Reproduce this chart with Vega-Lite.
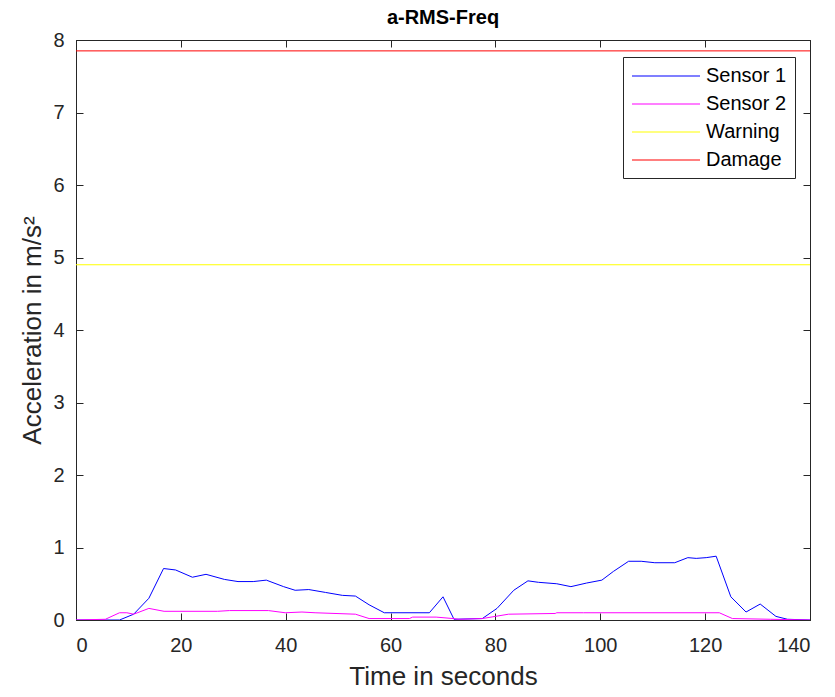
{
  "$schema": "https://vega.github.io/schema/vega-lite/v6.json",
  "width": 734,
  "height": 580,
  "autosize": "none",
  "padding": {"left": 76, "top": 40, "right": 25, "bottom": 77},
  "background": "white",
  "config": {
    "font": "Liberation Sans",
    "view": {"stroke": "#262626", "strokeWidth": 1},
    "axis": {"grid": false, "domainColor": "#262626", "tickColor": "#262626", "labelColor": "#262626", "titleColor": "#262626", "labelFont": "Liberation Sans", "titleFont": "Liberation Sans", "labelFontSize": 20, "titleFontSize": 26, "titleFontWeight": "normal", "tickSize": -7, "domainWidth": 1, "tickWidth": 1}
  },
  "title": {"text": "a-RMS-Freq", "fontSize": 20, "fontWeight": "bold", "font": "Liberation Sans", "color": "#000000", "offset": 2},
  "data": {"values": [
    {"series": "Sensor 1", "t": 0, "v": 0},
    {"series": "Sensor 1", "t": 8.3, "v": 0},
    {"series": "Sensor 1", "t": 11, "v": 0.08},
    {"series": "Sensor 1", "t": 13.9, "v": 0.3},
    {"series": "Sensor 1", "t": 16.7, "v": 0.71},
    {"series": "Sensor 1", "t": 19, "v": 0.69},
    {"series": "Sensor 1", "t": 22.2, "v": 0.59},
    {"series": "Sensor 1", "t": 24.8, "v": 0.63},
    {"series": "Sensor 1", "t": 28.3, "v": 0.56},
    {"series": "Sensor 1", "t": 30.9, "v": 0.53},
    {"series": "Sensor 1", "t": 33.8, "v": 0.53},
    {"series": "Sensor 1", "t": 36.3, "v": 0.55},
    {"series": "Sensor 1", "t": 39.6, "v": 0.46},
    {"series": "Sensor 1", "t": 41.8, "v": 0.41},
    {"series": "Sensor 1", "t": 44.4, "v": 0.42},
    {"series": "Sensor 1", "t": 47.6, "v": 0.38},
    {"series": "Sensor 1", "t": 50.8, "v": 0.34},
    {"series": "Sensor 1", "t": 53.3, "v": 0.33},
    {"series": "Sensor 1", "t": 55.9, "v": 0.21},
    {"series": "Sensor 1", "t": 58.8, "v": 0.1},
    {"series": "Sensor 1", "t": 67.4, "v": 0.1},
    {"series": "Sensor 1", "t": 70.0, "v": 0.32},
    {"series": "Sensor 1", "t": 72.1, "v": 0.01},
    {"series": "Sensor 1", "t": 77.5, "v": 0.02},
    {"series": "Sensor 1", "t": 80.3, "v": 0.16},
    {"series": "Sensor 1", "t": 83.5, "v": 0.41},
    {"series": "Sensor 1", "t": 86.2, "v": 0.54},
    {"series": "Sensor 1", "t": 88.2, "v": 0.52},
    {"series": "Sensor 1", "t": 91.7, "v": 0.5},
    {"series": "Sensor 1", "t": 94.4, "v": 0.46},
    {"series": "Sensor 1", "t": 97.4, "v": 0.51},
    {"series": "Sensor 1", "t": 100.3, "v": 0.55},
    {"series": "Sensor 1", "t": 102.5, "v": 0.67},
    {"series": "Sensor 1", "t": 105.4, "v": 0.81},
    {"series": "Sensor 1", "t": 107.8, "v": 0.81},
    {"series": "Sensor 1", "t": 110.4, "v": 0.79},
    {"series": "Sensor 1", "t": 114.2, "v": 0.79},
    {"series": "Sensor 1", "t": 116.7, "v": 0.86},
    {"series": "Sensor 1", "t": 118.3, "v": 0.85},
    {"series": "Sensor 1", "t": 120.2, "v": 0.86},
    {"series": "Sensor 1", "t": 122.1, "v": 0.88},
    {"series": "Sensor 1", "t": 124.9, "v": 0.32},
    {"series": "Sensor 1", "t": 127.8, "v": 0.11},
    {"series": "Sensor 1", "t": 130.5, "v": 0.22},
    {"series": "Sensor 1", "t": 133.5, "v": 0.05},
    {"series": "Sensor 1", "t": 135.7, "v": 0.01},
    {"series": "Sensor 1", "t": 140, "v": 0},
    {"series": "Sensor 2", "t": 0, "v": 0},
    {"series": "Sensor 2", "t": 5.6, "v": 0.01},
    {"series": "Sensor 2", "t": 8.3, "v": 0.1},
    {"series": "Sensor 2", "t": 9.7, "v": 0.1},
    {"series": "Sensor 2", "t": 11, "v": 0.08},
    {"series": "Sensor 2", "t": 13.9, "v": 0.16},
    {"series": "Sensor 2", "t": 16.8, "v": 0.12},
    {"series": "Sensor 2", "t": 27, "v": 0.12},
    {"series": "Sensor 2", "t": 29.3, "v": 0.13},
    {"series": "Sensor 2", "t": 36.7, "v": 0.13},
    {"series": "Sensor 2", "t": 39.9, "v": 0.1},
    {"series": "Sensor 2", "t": 43.1, "v": 0.11},
    {"series": "Sensor 2", "t": 45.6, "v": 0.1},
    {"series": "Sensor 2", "t": 53.3, "v": 0.08},
    {"series": "Sensor 2", "t": 55.9, "v": 0.02},
    {"series": "Sensor 2", "t": 63.6, "v": 0.02},
    {"series": "Sensor 2", "t": 64.2, "v": 0.04},
    {"series": "Sensor 2", "t": 68.7, "v": 0.04},
    {"series": "Sensor 2", "t": 71.9, "v": 0.02},
    {"series": "Sensor 2", "t": 73, "v": 0.01},
    {"series": "Sensor 2", "t": 77.5, "v": 0.02},
    {"series": "Sensor 2", "t": 82.5, "v": 0.08},
    {"series": "Sensor 2", "t": 91.4, "v": 0.09},
    {"series": "Sensor 2", "t": 91.7, "v": 0.1},
    {"series": "Sensor 2", "t": 96.8, "v": 0.1},
    {"series": "Sensor 2", "t": 122.7, "v": 0.1},
    {"series": "Sensor 2", "t": 125.2, "v": 0.02},
    {"series": "Sensor 2", "t": 132.5, "v": 0.01},
    {"series": "Sensor 2", "t": 140, "v": 0},
    {"series": "Warning", "t": 0, "v": 4.9},
    {"series": "Warning", "t": 140, "v": 4.9},
    {"series": "Damage", "t": 0, "v": 7.85},
    {"series": "Damage", "t": 140, "v": 7.85}
  ]},
  "layer": [
    {
      "mark": {"type": "line", "strokeWidth": 1, "clip": true},
      "encoding": {
        "x": {"field": "t", "type": "quantitative", "scale": {"domain": [0, 140], "nice": false}, "axis": {"title": "Time in seconds", "values": [0, 20, 40, 60, 80, 100, 120, 140], "labelPadding": 22, "titlePadding": 8}},
        "y": {"field": "v", "type": "quantitative", "scale": {"domain": [0, 8], "nice": false}, "axis": {"title": "Acceleration in m/s²", "values": [0, 1, 2, 3, 4, 5, 6, 7, 8], "labelPadding": 19, "titlePadding": 7}},
        "color": {"field": "series", "type": "nominal", "scale": {"domain": ["Sensor 1", "Sensor 2", "Warning", "Damage"], "range": ["#0000ff", "#ff00ff", "#ffff00", "#ff0000"]},
          "legend": {"title": null, "orient": "none", "legendX": 547, "legendY": 17, "symbolType": "M-1,0L5.8,0", "symbolSize": 400, "symbolStrokeWidth": 1.2, "labelFontSize": 20, "labelFont": "Liberation Sans", "labelColor": "#000000", "strokeColor": "#262626", "fillColor": "white", "padding": 8, "rowPadding": 7, "labelOffset": 53,
            "encode": {"symbols": {"update": {"stroke": {"scale": "color", "field": "value"}, "fill": {"value": "transparent"}, "opacity": {"value": 1}, "strokeOpacity": {"value": 1}}}}}},
        "order": {"field": "t", "type": "quantitative"}
      }
    },
    {
      "mark": {"type": "line", "opacity": 0},
      "encoding": {
        "x": {"field": "t", "type": "quantitative", "scale": {"domain": [0, 140], "nice": false}, "axis": {"orient": "top", "title": null, "labels": false, "values": [0, 20, 40, 60, 80, 100, 120, 140]}},
        "y": {"field": "v", "type": "quantitative", "scale": {"domain": [0, 8], "nice": false}, "axis": {"orient": "right", "title": null, "labels": false, "values": [0, 1, 2, 3, 4, 5, 6, 7, 8]}},
        "detail": {"field": "series"}
      }
    }
  ],
  "resolve": {"axis": {"x": "independent", "y": "independent"}}
}
